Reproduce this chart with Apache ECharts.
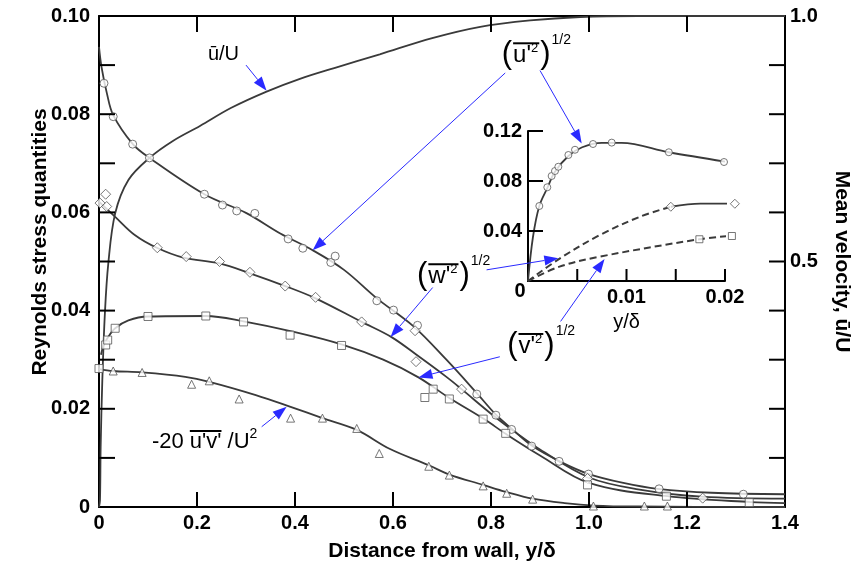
<!DOCTYPE html>
<html>
<head>
<meta charset="utf-8">
<script src="https://cdn.jsdelivr.net/npm/echarts@6/dist/echarts.min.js"></script>
<style>
  html, body { margin: 0; padding: 0; background: #fff; }
  #chart { width: 854px; height: 569px; }
</style>
</head>
<body>
<div id="chart"></div>
<script>
// ---- main plot: curves (y/delta, value) ----
var uLine = [[0,0.0937],[0.005,0.0897],[0.016,0.0843],[0.029,0.0798],[0.069,0.0739],[0.103,0.0711],[0.215,0.0637],[0.3,0.0599],[0.37,0.0557],[0.436,0.0523],[0.5,0.0483],[0.567,0.0425],[0.642,0.0368],[0.709,0.0300],[0.771,0.0232],[0.81,0.0188],[0.844,0.0158],[0.883,0.0125],[0.94,0.0093],[1.0,0.0067],[1.07,0.0049],[1.14,0.0037],[1.25,0.0029],[1.4,0.0026]];
var wLine = [[0,0.0622],[0.033,0.0591],[0.073,0.0554],[0.118,0.0528],[0.172,0.0508],[0.246,0.0496],[0.308,0.0476],[0.38,0.045],[0.442,0.0425],[0.536,0.0377],[0.597,0.0346],[0.648,0.031],[0.709,0.0265],[0.74,0.024],[0.8,0.019],[0.85,0.0152],[0.9,0.0117],[1.0,0.006],[1.1,0.0036],[1.23,0.0021],[1.4,0.0017]];
var vLine = [[0.004,0.031],[0.009,0.0328],[0.018,0.0345],[0.033,0.0364],[0.06,0.038],[0.1,0.0388],[0.218,0.0389],[0.295,0.0378],[0.4,0.0356],[0.495,0.0331],[0.58,0.0300],[0.652,0.0264],[0.715,0.0222],[0.786,0.0179],[0.83,0.0149],[0.9,0.0105],[1.0,0.0049],[1.16,0.0022],[1.33,0.001],[1.4,0.0008]];
var uvLine = [[0,0.0281],[0.029,0.0277],[0.088,0.0274],[0.176,0.0265],[0.225,0.0255],[0.32,0.0228],[0.391,0.0204],[0.456,0.0181],[0.526,0.0157],[0.594,0.0118],[0.673,0.0085],[0.715,0.0066],[0.784,0.0045],[0.83,0.0031],[0.885,0.0017],[0.95,0.0008],[1.01,0.0003],[1.1,0.0001],[1.4,0.0]];
// mean velocity u/U, right axis
var meanU = [[0,0],[0.002,0.014],[0.0034,0.123],[0.0068,0.259],[0.012,0.394],[0.019,0.496],[0.033,0.598],[0.06,0.666],[0.103,0.711],[0.15,0.745],[0.206,0.776],[0.27,0.813],[0.342,0.846],[0.41,0.872],[0.48,0.894],[0.573,0.922],[0.68,0.955],[0.778,0.978],[0.88,0.991],[0.982,0.998],[1.1,1.0],[1.4,1.0]];

// ---- main plot: measured points ----
var uPts = [[0.0102,0.0863],[0.029,0.0795],[0.0687,0.0739],[0.103,0.0711],[0.215,0.0637],[0.252,0.0615],[0.281,0.0603],[0.318,0.0598],[0.386,0.0546],[0.416,0.0527],[0.473,0.0498],[0.482,0.0511],[0.567,0.042],[0.601,0.0401],[0.65,0.037],[0.771,0.023],[0.81,0.0187],[0.842,0.0158],[0.883,0.0124],[0.939,0.0093],[0.999,0.0067],[1.143,0.0037],[1.315,0.0026]];
var wPts = [[0.0136,0.0637],[0.0157,0.0612],[0.002,0.0619],[0.119,0.0528],[0.178,0.051],[0.246,0.05],[0.308,0.0478],[0.38,0.045],[0.442,0.0427],[0.536,0.0377],[0.645,0.0359],[0.647,0.0296],[0.74,0.024],[0.997,0.0058],[1.232,0.0018]];
var vPts = [[0,0.0282],[0.0136,0.033],[0.0177,0.034],[0.033,0.0364],[0.1,0.0388],[0.218,0.0389],[0.295,0.0377],[0.39,0.035],[0.495,0.0329],[0.665,0.0223],[0.682,0.024],[0.715,0.022],[0.784,0.0179],[0.83,0.015],[0.997,0.0045],[1.158,0.0022],[1.327,0.0009]];
var uvPts = [[0.029,0.0277],[0.088,0.0274],[0.189,0.025],[0.225,0.0257],[0.286,0.022],[0.391,0.0181],[0.456,0.0181],[0.526,0.016],[0.572,0.0109],[0.673,0.0083],[0.715,0.0065],[0.784,0.0043],[0.832,0.0028],[0.885,0.0016],[1.009,0.0002],[1.113,0.0002],[1.16,0.0002]];

// ---- inset (near wall) ----
var inUPts = [[0.00115,0.06],[0.00196,0.075],[0.0024,0.084],[0.00274,0.088],[0.00308,0.0914],[0.0041,0.1008],[0.00477,0.105],[0.0066,0.1096],[0.0085,0.1107],[0.0143,0.103],[0.0199,0.0952]];
var inULine = [[0,0],[0.0005,0.035],[0.00115,0.06],[0.002,0.075],[0.0027,0.087],[0.0041,0.1],[0.0055,0.107],[0.0075,0.1105],[0.0095,0.1105],[0.0143,0.103],[0.02,0.0955]];
var inWDash = [[0,0],[0.00325,0.0181],[0.0073,0.0368],[0.0114,0.0515],[0.0145,0.0594]];
var inWLine = [[0.0145,0.0594],[0.0175,0.0619],[0.021,0.0618]];
var inWPts = [[0.0145,0.0594],[0.021,0.0618]];
var inVDash = [[0,0],[0.0032,0.0115],[0.0073,0.0195],[0.0174,0.0334],[0.0205,0.036]];
var inVPts = [[0.0174,0.0334],[0.0207,0.036]];

// tick labels
var xTicks = [0, 0.2, 0.4, 0.6, 0.8, 1.0, 1.2, 1.4];
var yLeftLabels = ['0', '0.02', '0.04', '0.06', '0.08', '0.10'];
var inXLabels = ['0.01', '0.02'];

var FONT = '"Liberation Sans", Arial, sans-serif';
var ARROW = '#2a2aff';
var LINEC = '#3a3a3a';

var chart = echarts.init(document.getElementById('chart'));

function lineS(data, xi, yi, dashed) {
  return {
    type: 'line', data: data, xAxisIndex: xi, yAxisIndex: yi, smooth: 0.35,
    showSymbol: false, clip: false, z: 2, silent: true,
    lineStyle: { color: LINEC, width: dashed ? 2 : 1.8, type: dashed ? [7, 4] : 'solid' }
  };
}
function ptS(data, xi, yi, sym, size) {
  return {
    type: 'scatter', data: data, xAxisIndex: xi, yAxisIndex: yi, symbol: sym, symbolSize: size,
    clip: false, z: 3, silent: true,
    itemStyle: { color: '#fff', borderColor: '#555', borderWidth: 1 }
  };
}
var tickFont = { color: '#000', fontFamily: FONT, fontWeight: 'bold', fontSize: 20 };
var titleFont = { color: '#000', fontFamily: FONT, fontWeight: 'bold', fontSize: 21 };
var axLine = { show: true, onZero: false, lineStyle: { color: '#000', width: 2 } };

var option = {
  animation: false,
  backgroundColor: '#fff',
  grid: [
    { left: 99, top: 16, width: 686, height: 491, containLabel: false, outerBoundsMode: 'none' },
    { left: 528, top: 131, width: 197, height: 150, containLabel: false, outerBoundsMode: 'none' }
  ],
  xAxis: [
    {
      gridIndex: 0, type: 'value', min: 0, max: 1.4, interval: 0.2,
      axisLine: axLine, axisTick: { show: false }, splitLine: { show: false },
      axisLabel: Object.assign({ margin: 6, alignMinLabel: 'center', alignMaxLabel: 'center', formatter: function (v) {
        var i = xTicks.indexOf(Math.round(v * 10) / 10);
        return i < 0 ? '' : (v === 0 ? '0' : v.toFixed(1));
      } }, tickFont),
      name: 'Distance from wall, y/\u03b4', nameLocation: 'middle', nameGap: 34,
      nameTextStyle: titleFont
    },
    {
      gridIndex: 0, type: 'value', min: 0, max: 1.4, interval: 0.2, position: 'top',
      axisLine: axLine, axisTick: { show: false },
      axisLabel: { show: false }, splitLine: { show: false }
    },
    {
      gridIndex: 1, type: 'value', min: 0, max: 0.02, interval: 0.005,
      axisLine: axLine, axisTick: { show: false }, splitLine: { show: false },
      axisLabel: Object.assign({ margin: 6, alignMaxLabel: 'center', formatter: function (v) {
        var s = v.toFixed(2);
        return inXLabels.indexOf(s) >= 0 && Math.abs(v * 100 - Math.round(v * 100)) < 1e-6 ? s : '';
      } }, tickFont),
      name: 'y/\u03b4', nameLocation: 'middle', nameGap: 31,
      nameTextStyle: { color: '#000', fontFamily: FONT, fontSize: 20 }
    }
  ],
  yAxis: [
    {
      gridIndex: 0, type: 'value', min: 0, max: 0.1, interval: 0.01,
      axisLine: axLine, axisTick: { show: false }, splitLine: { show: false },
      axisLabel: Object.assign({ margin: 9, formatter: function (v) {
        var k = Math.round(v * 100);
        return k % 2 === 0 ? yLeftLabels[k / 2] : '';
      } }, tickFont)
    },
    {
      gridIndex: 0, type: 'value', min: 0, max: 1, interval: 0.1, position: 'right',
      axisLine: axLine, axisTick: { show: false }, splitLine: { show: false },
      axisLabel: Object.assign({ margin: 5, formatter: function (v) {
        var k = Math.round(v * 10);
        return k === 10 ? '1.0' : (k === 5 ? '0.5' : '');
      } }, tickFont),
      name: 'Mean velocity, \u016b/U', nameLocation: 'middle', nameGap: 46, nameRotate: -90,
      nameTextStyle: titleFont
    },
    {
      gridIndex: 1, type: 'value', min: 0, max: 0.12, interval: 0.04,
      axisLine: axLine, axisTick: { show: false }, splitLine: { show: false },
      axisLabel: Object.assign({ margin: 6, formatter: function (v) {
        return v === 0 ? '' : v.toFixed(2);
      } }, tickFont)
    }
  ],
  series: [
    lineS(uLine, 0, 0), lineS(wLine, 0, 0), lineS(vLine, 0, 0), lineS(uvLine, 0, 0),
    lineS(meanU, 0, 1),
    ptS(uPts, 0, 0, 'circle', 8), ptS(wPts, 0, 0, 'diamond', 10),
    ptS(vPts, 0, 0, 'rect', 8), ptS(uvPts, 0, 0, 'triangle', 8),
    lineS(inULine, 2, 2), lineS(inWDash, 2, 2, true), lineS(inWLine, 2, 2), lineS(inVDash, 2, 2, true),
    ptS(inUPts, 2, 2, 'circle', 7), ptS(inWPts, 2, 2, 'diamond', 9), ptS(inVPts, 2, 2, 'rect', 7)
  ]
};
chart.setOption(option);

// ---- annotations (labels, arrows, inward ticks), placed in data coordinates ----
var mctx = document.createElement('canvas').getContext('2d');
function tw(s, size) { mctx.font = size + 'px ' + FONT; return mctx.measureText(s).width; }
function P(c, inset) {
  return chart.convertToPixel(inset ? { xAxisIndex: 2, yAxisIndex: 2 } : { xAxisIndex: 0, yAxisIndex: 0 }, c);
}
function txt(s, x, y, size, va) {
  return { type: 'text', silent: true, z: 10, style: {
    text: s, x: x, y: y, fill: '#000', font: size + 'px ' + FONT,
    textAlign: 'left', textVerticalAlign: va || 'middle', align: 'left', verticalAlign: va || 'middle' } };
}
function seg(x1, y1, x2, y2, color, w) {
  return { type: 'line', silent: true, z: 9, shape: { x1: x1, y1: y1, x2: x2, y2: y2 }, style: { stroke: color, lineWidth: w } };
}
function arrow(from, to, toInset) {
  var a = P(from, false), b = P(to, toInset);
  var dx = b[0] - a[0], dy = b[1] - a[1], L = Math.sqrt(dx * dx + dy * dy);
  var ux = dx / L, uy = dy / L, hl = 14, hw = 5;
  var bx = b[0] - ux * hl, by = b[1] - uy * hl;
  return [
    seg(a[0], a[1], bx, by, ARROW, 1),
    { type: 'polygon', silent: true, z: 9, shape: { points: [[b[0], b[1]], [bx - uy * hw, by + ux * hw], [bx + uy * hw, by - ux * hw]] }, style: { fill: ARROW } }
  ];
}
// "( x'^2 )^1/2" with overline
function stress(anchor, letter) {
  var p = P(anchor, false), x = p[0], y = p[1], out = [];
  out.push(txt('(', x, y, 31));
  var x1 = x + tw('(', 31) + 1;
  out.push(txt(letter + "'", x1, y + 1, 24));
  var x2 = x1 + tw(letter + "'", 24);
  out.push(txt('2', x2, y - 6, 13));
  var x3 = x2 + tw('2', 13) + 2;
  out.push(seg(x1, y - 11, x3 - 1, y - 11, '#000', 2));
  out.push(txt(')', x3, y, 31));
  out.push(txt('1/2', x3 + tw(')', 31) + 1, y - 14, 14));
  return out;
}
var g = [];
// inward ticks
var i, v, p;
for (i = 1; i < 7; i++) {
  v = i * 0.2;
  p = P([v, 0]); g.push(seg(p[0], p[1], p[0], p[1] - 15, '#000', 2));
  p = P([v, 0.1]); g.push(seg(p[0], p[1], p[0], p[1] + 16, '#000', 2));
}
for (i = 1; i < 10; i++) {
  p = P([0, i * 0.01]); g.push(seg(p[0], p[1], p[0] + 16, p[1], '#000', 2));
  p = chart.convertToPixel({ xAxisIndex: 0, yAxisIndex: 1 }, [1.4, i * 0.1]);
  g.push(seg(p[0], p[1], p[0] - 16, p[1], '#000', 2));
}
for (i = 1; i <= 4; i++) {
  p = P([i * 0.005, 0], true); g.push(seg(p[0], p[1], p[0], p[1] - 12, '#000', 2));
}
for (i = 1; i <= 3; i++) {
  p = P([0, i * 0.04], true); g.push(seg(p[0], p[1], p[0] + 15, p[1], '#000', 2));
}
// left axis title
g.push({ type: 'text', silent: true, z: 10, x: 40, y: 242, rotation: Math.PI / 2,
  style: { text: 'Reynolds stress quantities', x: 0, y: 0, fill: '#000', font: 'bold 21px ' + FONT,
    textAlign: 'center', textVerticalAlign: 'middle', align: 'center', verticalAlign: 'middle' } });
var pu = P([0.259, 0.0921], false);
g.push(txt('\u016b/U', pu[0] - 18, pu[1], 20));
g = g.concat(stress([0.822, 0.0922], 'u'));
g = g.concat(stress([0.649, 0.0472], 'w'));
g = g.concat(stress([0.833, 0.033], 'v'));
// -20 u'v' /U^2
(function () {
  var p = P([0.108, 0.01324], false), x = p[0], y = p[1];
  g.push(txt('-20 ', x, y, 22));
  var x1 = x + tw('-20 ', 22);
  g.push(txt("u'v'", x1, y, 22));
  var x2 = x1 + tw("u'v'", 22);
  g.push(seg(x1, y - 11, x2, y - 11, '#000', 2));
  g.push(txt(' /U', x2, y, 22));
  g.push(txt('2', x2 + tw(' /U', 22), y - 8, 14));
})();
var p0 = P([0, 0], true);
g.push({ type: 'text', silent: true, z: 10, style: { text: '0', x: p0[0] - 8, y: p0[1] + 10, fill: '#000',
  font: 'bold 20px ' + FONT, textAlign: 'center', textVerticalAlign: 'middle', align: 'center', verticalAlign: 'middle' } });
g = g.concat(arrow([0.300, 0.0900], [0.342, 0.0848]));
g = g.concat(arrow([0.829, 0.0884], [0.436, 0.0523]));
g = g.concat(arrow([0.900, 0.0889], [0.00545, 0.110], true));
g = g.concat(arrow([0.791, 0.0483], [0.00308, 0.0182], true));
g = g.concat(arrow([0.681, 0.0447], [0.595, 0.0346]));
g = g.concat(arrow([0.818, 0.0306], [0.652, 0.0264]));
g = g.concat(arrow([0.942, 0.0378], [0.00777, 0.0176], true));
g = g.concat(arrow([0.332, 0.01635], [0.383, 0.0204]));
chart.setOption({ graphic: { elements: g } });
</script>
</body>
</html>
